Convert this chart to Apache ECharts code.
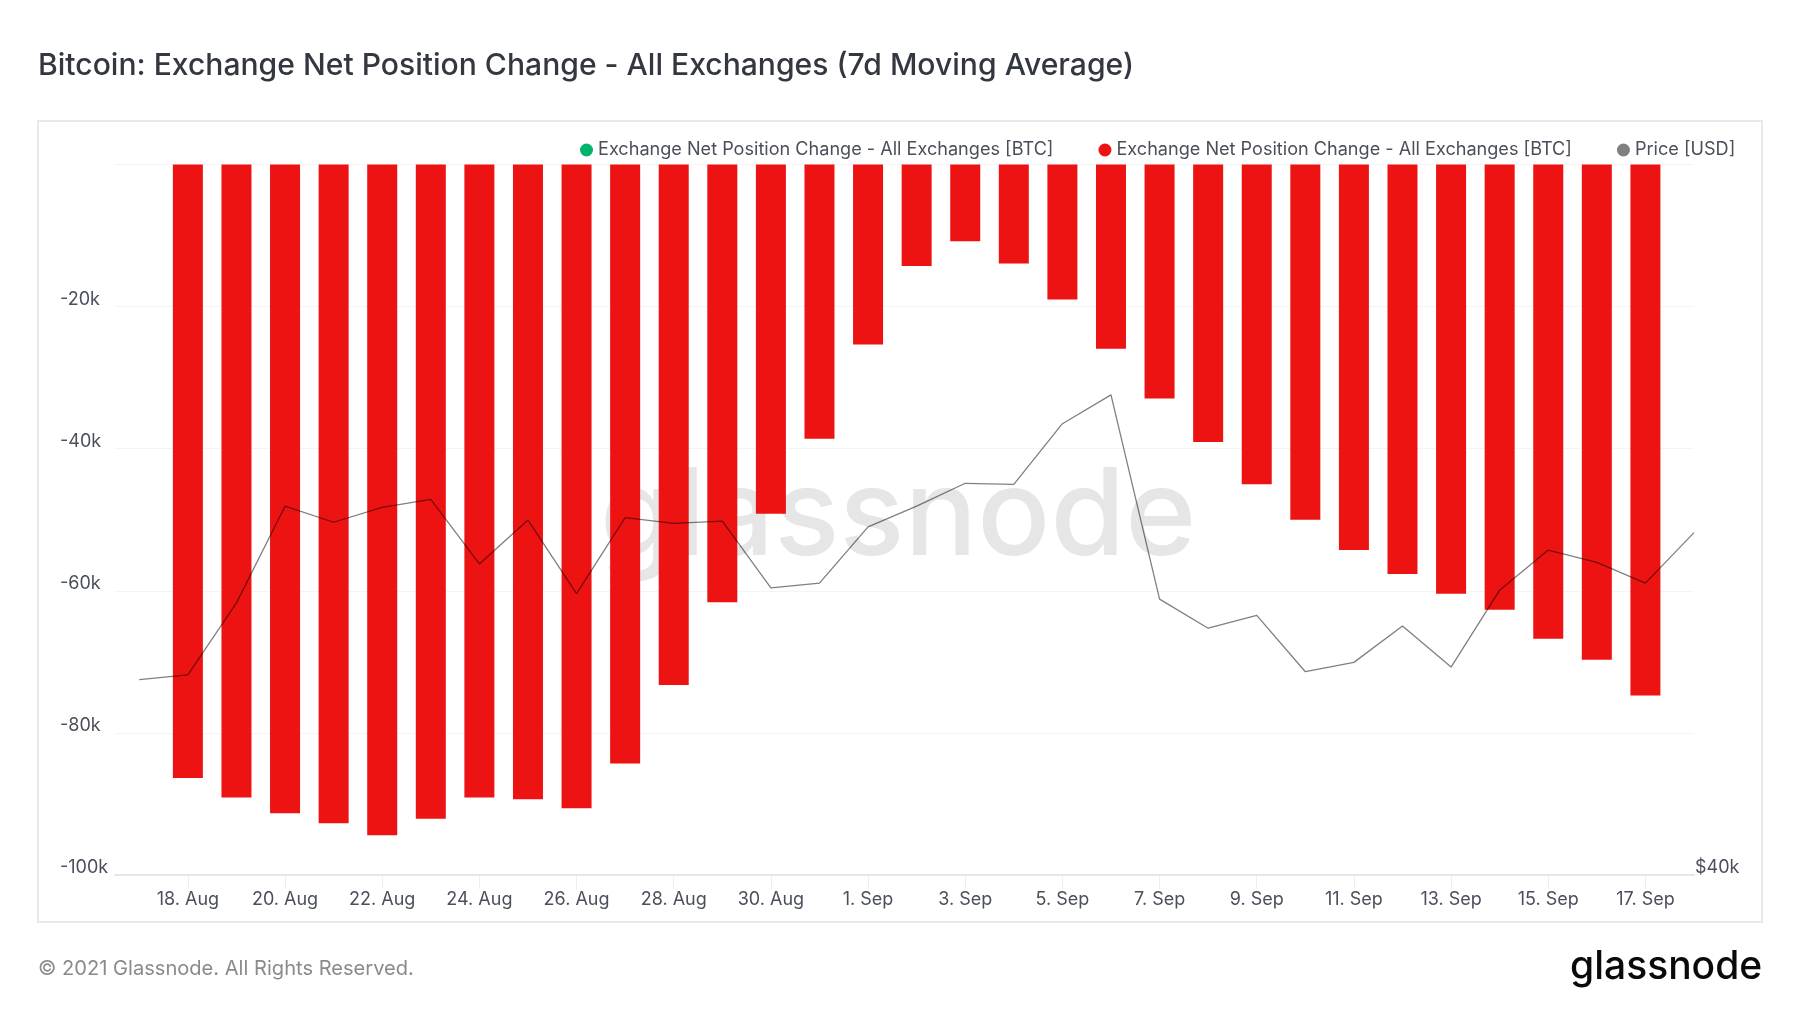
<!DOCTYPE html>
<html>
<head>
<meta charset="utf-8">
<style>html,body{margin:0;padding:0;background:#fff}#main{width:1800px;height:1013px}</style>
<script src="https://cdn.jsdelivr.net/npm/echarts@6/dist/echarts.min.js"></script>
</head>
<body>
<div id="main"></div>
<script>
var dates = ['17. Aug','18. Aug','19. Aug','20. Aug','21. Aug','22. Aug','23. Aug','24. Aug','25. Aug','26. Aug','27. Aug','28. Aug','29. Aug','30. Aug','31. Aug','1. Sep','2. Sep','3. Sep','4. Sep','5. Sep','6. Sep','7. Sep','8. Sep','9. Sep','10. Sep','11. Sep','12. Sep','13. Sep','14. Sep','15. Sep','16. Sep','17. Sep','18. Sep'];
// bars start on 18 Aug, which is index 1 of dates
var netOutflow = [-86350,-89100,-91300,-92700,-94400,-92100,-89100,-89350,-90600,-84300,-73250,-61600,-49150,-38600,-25350,-14300,-10800,-13950,-19000,-25950,-32950,-39050,-45000,-50000,-54250,-57650,-60400,-62650,-66750,-69700,-74750];
var netInflow = [];
var price = [44720,44840,46720,49370,48920,49340,49560,47770,48980,46970,49050,48890,48950,47120,47250,48790,49370,50020,49990,51750,52610,46820,46050,46390,44920,45160,46110,45040,47060,48150,47810,47250,48630];
var tickLabels = ['18. Aug','20. Aug','22. Aug','24. Aug','26. Aug','28. Aug','30. Aug','1. Sep','3. Sep','5. Sep','7. Sep','9. Sep','11. Sep','13. Sep','15. Sep','17. Sep'];

var seriesName = 'Exchange Net Position Change - All Exchanges [BTC]';
var tickIndex = tickLabels.map(function (l) { return dates.indexOf(l); });

var font = 'Inter, "Noto Sans", sans-serif';
var textColor = '#4b4f5c';

var myChart = echarts.init(document.getElementById('main'));
var option = {
    backgroundColor: '#fff',
    animation: false,
    textStyle: {fontFamily: font},
    graphic: [
        {type: 'rect', z: -10, shape: {x: 38, y: 121, width: 1724, height: 801}, style: {fill: '#fff', stroke: '#e9e9e9', lineWidth: 2}},
        {type: 'text', z: 10, x: 38, y: 51, style: {text: 'Bitcoin: Exchange Net Position Change - All Exchanges (7d Moving Average)', font: '500 30.1px ' + font, fill: '#333740'}},
        {type: 'text', z: 10, x: 38, y: 959, style: {text: '© 2021 Glassnode. All Rights Reserved.', font: '400 20.1px ' + font, fill: '#8a8a8a'}},
        {type: 'text', z: 10, x: 1570, y: 948, style: {text: 'glassnode', font: '500 39px ' + font, fill: '#0a0a0a'}},
        {type: 'text', z: -5, x: 600, y: 458, style: {text: 'glassnode', font: '500 121px ' + font, fill: '#e6e6e6'}}
    ],
    legend: {
        left: 580,
        top: 141,
        padding: 0,
        icon: 'circle',
        itemWidth: 13,
        itemHeight: 13,
        itemGap: 45,
        formatter: function (name) { return name.trim(); },
        textStyle: {fontFamily: font, fontSize: 18.1, color: textColor},
        data: [seriesName, seriesName + ' ', 'Price [USD]']
    },
    grid: {left: 115, right: 106, top: 164.5, bottom: 138},
    xAxis: {
        type: 'value',
        min: -0.5,
        max: dates.length - 1,
        axisLine: {show: true, onZero: false, lineStyle: {color: '#e6e6e6', width: 2}},
        axisTick: {show: true, length: 14, lineStyle: {color: '#eeeeee'}, customValues: tickIndex},
        splitLine: {show: false},
        axisLabel: {
            customValues: tickIndex,
            margin: 16,
            fontFamily: font,
            fontSize: 18,
            color: textColor,
            formatter: function (v) { return dates[v]; }
        }
    },
    yAxis: [
        {
            type: 'value',
            min: -100000,
            max: 0,
            interval: 20000,
            axisLine: {show: false},
            axisTick: {show: false},
            splitLine: {lineStyle: {color: '#f4f4f4', width: 1}},
            axisLabel: {
                margin: 55,
                align: 'left',
                verticalAlign: 'bottom',
                lineHeight: 14,
                fontFamily: font,
                fontSize: 18,
                color: textColor,
                formatter: function (v) { return v === 0 ? '' : (v / 1000) + 'k'; }
            }
        },
        {
            type: 'log',
            min: 40000,
            max: 60000,
            axisLine: {show: false},
            axisTick: {show: false},
            splitLine: {show: false},
            axisLabel: {
                customValues: [40000],
                margin: 1,
                align: 'left',
                verticalAlign: 'bottom',
                lineHeight: 14,
                fontFamily: font,
                fontSize: 18,
                color: textColor,
                formatter: function (v) { return '$' + (v / 1000) + 'k'; }
            }
        }
    ],
    series: [
        {
            name: seriesName,
            type: 'bar',
            stack: 'net',
            barWidth: 30,
            itemStyle: {color: '#00b46e'},
            data: netInflow
        },
        {
            name: seriesName + ' ',
            type: 'bar',
            stack: 'net',
            barWidth: 30,
            itemStyle: {color: '#ee1313'},
            data: netOutflow.map(function (v, i) { return [i + 1, v]; })
        },
        {
            name: 'Price [USD]',
            type: 'line',
            yAxisIndex: 1,
            showSymbol: false,
            z: 5,
            itemStyle: {color: '#808080'},
            lineStyle: {color: 'rgba(0,0,0,0.5)', width: 1.3},
            data: price.map(function (v, i) { return [i, v]; })
        }
    ]
};
myChart.setOption(option);
</script>
</body>
</html>
